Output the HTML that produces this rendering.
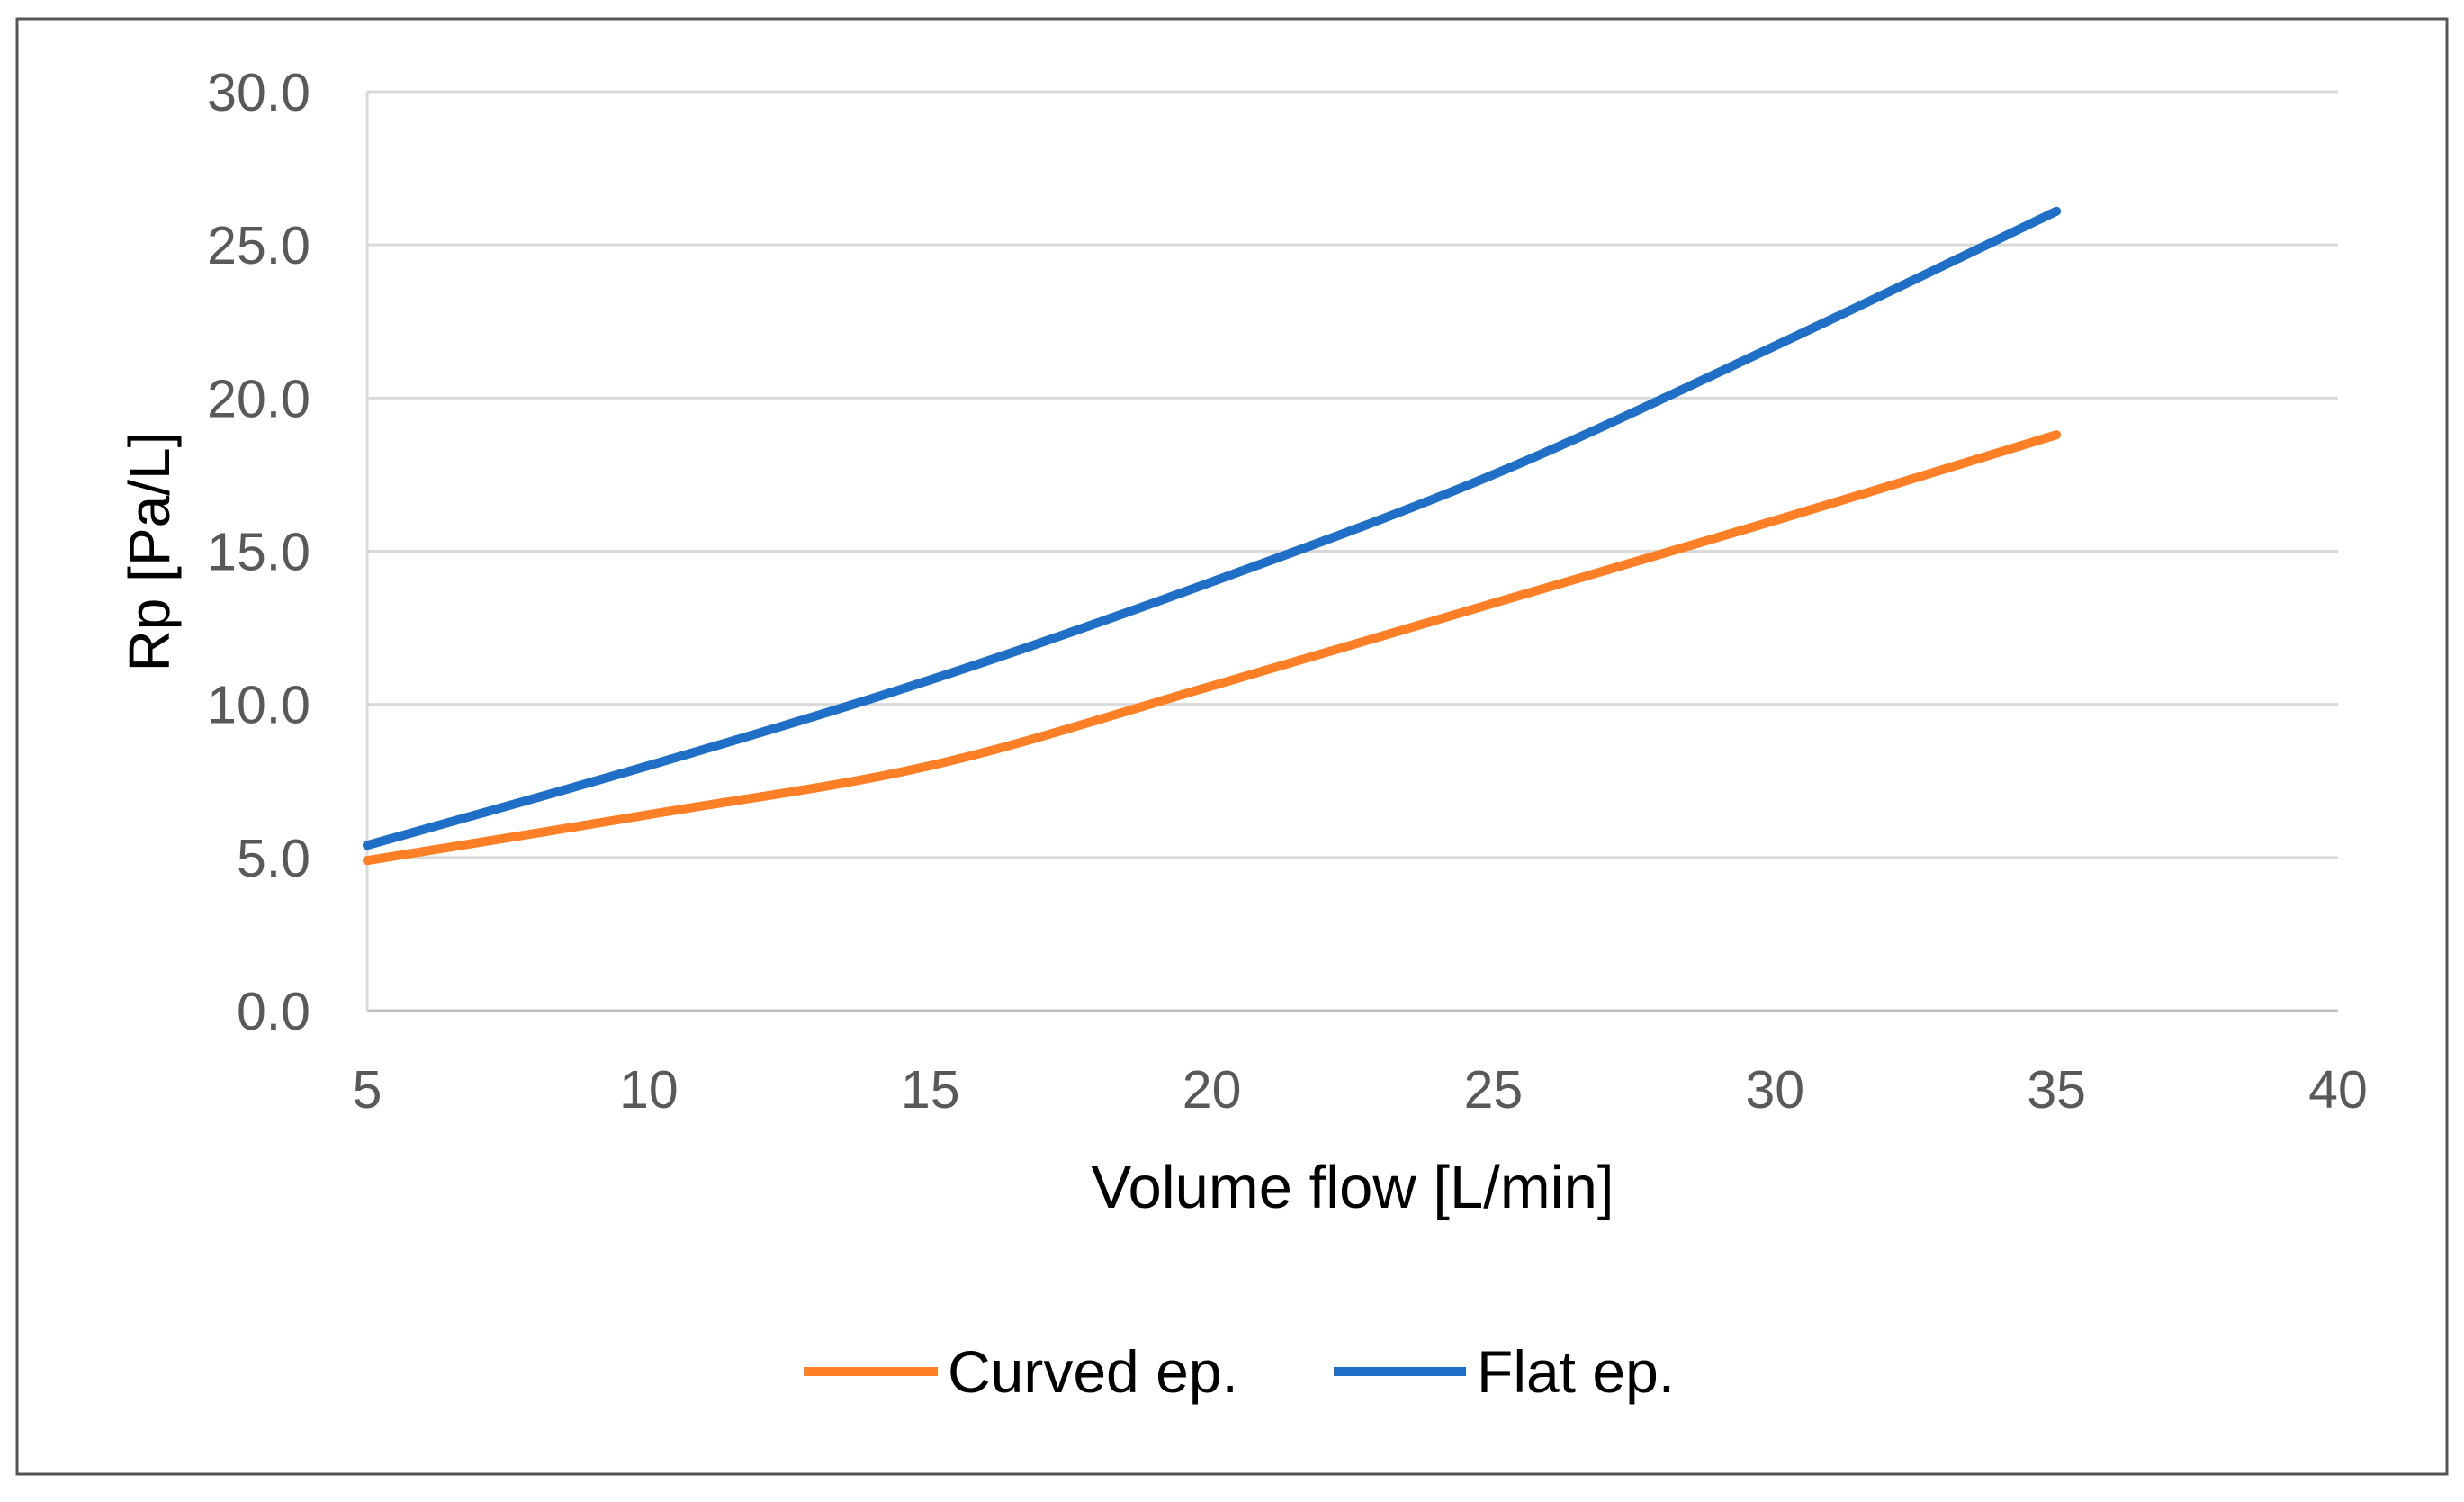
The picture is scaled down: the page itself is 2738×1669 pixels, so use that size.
<!DOCTYPE html>
<html><head><meta charset="utf-8"><style>
html,body{margin:0;padding:0;background:#fff;}
svg{display:block;font-family:"Liberation Sans",sans-serif;}
</style></head><body>
<svg id="chart" width="2738" height="1669" viewBox="0 0 2738 1669">
<rect x="19" y="21" width="2700" height="1617" fill="#fff" stroke="#555" stroke-width="3"/>
<g id="grid"></g>
<g id="yt"></g>
<g id="xt"></g>
<g id="series"></g>
<text x="1503" y="1342" font-size="67" text-anchor="middle" fill="#000">Volume flow [L/min]</text>
<text transform="translate(188,613) rotate(-90)" font-size="64" text-anchor="middle" fill="#000">Rp [Pa/L]</text>
<g>
<g><line x1="893" y1="1524" x2="1042" y2="1524" stroke="#FF7F27" stroke-width="10"/><text x="1053" y="1547" font-size="66" fill="#000">Curved ep.</text></g>
<g><line x1="1482" y1="1524" x2="1629" y2="1524" stroke="#1F6FC6" stroke-width="10"/><text x="1641" y="1547" font-size="66" fill="#000">Flat ep.</text></g>
</g>
</svg>
<script>
const xCats=[5,10,15,20,25,30,35];
const curved=[4.9,6.4,8.0,10.6,13.3,16.0,18.8];
const flat=[5.4,8.0,10.8,14.0,17.5,21.7,26.1];
const yTicks=[0,5,10,15,20,25,30];
const yTickLabels=["0.0","5.0","10.0","15.0","20.0","25.0","30.0"];
const xTicks=[5,10,15,20,25,30,35,40];

const NS="http://www.w3.org/2000/svg";
function X(v){return 408+(v-5)*(2598-408)/35;}
function Y(v){return 1123-v*(1123-102)/30;}
function mk(t,a,p){const e=document.createElementNS(NS,t);for(const k in a)e.setAttribute(k,a[k]);p.appendChild(e);return e;}
const grid=document.getElementById('grid'),yt=document.getElementById('yt'),xt=document.getElementById('xt'),ser=document.getElementById('series');
yTicks.forEach((v,i)=>{
 const l=mk('line',{x1:X(5),x2:X(40),y1:Y(v),y2:Y(v),stroke:v===0?'#bfbfbf':'#d9d9d9','stroke-width':3},grid);
 
 
 const t=mk('text',{x:345,y:Y(v)+21,'font-size':59,'text-anchor':'end',fill:'#595959'},yt);
 t.textContent=yTickLabels[i];
 
 
});
const ax=mk('line',{x1:X(5),x2:X(5),y1:Y(0),y2:Y(30),stroke:'#d9d9d9','stroke-width':3},grid);


xTicks.forEach(v=>{
 const t=mk('text',{x:X(v),y:1231,'font-size':59,'text-anchor':'middle',fill:'#595959'},xt);
 t.textContent=v;
 
 
});
function path(vals){
 const p=xCats.map((x,i)=>[X(x),Y(vals[i])]);
 let d='M'+p[0][0]+','+p[0][1];
 for(let i=0;i<p.length-1;i++){
  const p0=p[i-1]||p[i],p1=p[i],p2=p[i+1],p3=p[i+2]||p[i+1];
  const c1=[p1[0]+(p2[0]-p0[0])/6,p1[1]+(p2[1]-p0[1])/6];
  const c2=[p2[0]-(p3[0]-p1[0])/6,p2[1]-(p3[1]-p1[1])/6];
  d+=' C'+c1+' '+c2+' '+p2;
 }
 return d;
}
const pc=mk('path',{d:path(curved),fill:'none',stroke:'#FF7F27','stroke-width':10,'stroke-linecap':'round'},ser);


const pf=mk('path',{d:path(flat),fill:'none',stroke:'#1F6FC6','stroke-width':10,'stroke-linecap':'round'},ser);


</script>
</body></html>
